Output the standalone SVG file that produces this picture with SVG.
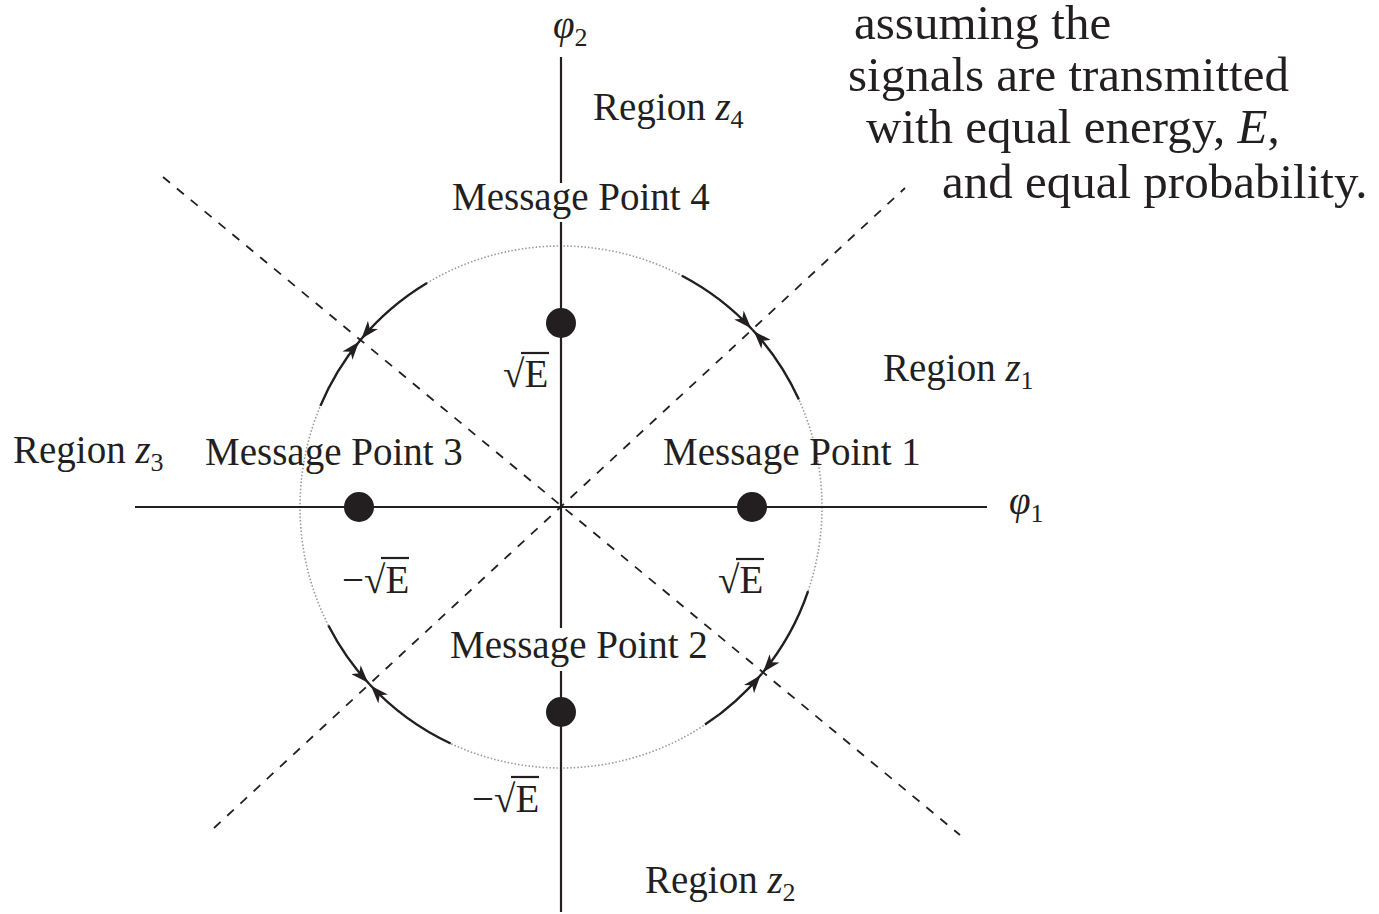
<svg xmlns="http://www.w3.org/2000/svg" width="1379" height="914" viewBox="0 0 1379 914">
<style>
.t{font-family:"Liberation Serif","Times New Roman",serif;font-size:39px;fill:#231f20}
.big{font-family:"Liberation Serif","Times New Roman",serif;font-size:49px;fill:#231f20}
.axis{stroke:#231f20;stroke-width:2.2;fill:none}
.dash{stroke:#231f20;stroke-width:1.8;stroke-dasharray:9 9;fill:none}
.arc{stroke:#231f20;stroke-width:2.4;fill:none;marker-end:url(#ah)}
.circ{stroke:#9a9a9a;stroke-width:1.6;stroke-dasharray:1.5 2;fill:none}
.dot{fill:#231f20}
.it{font-style:italic}
</style>
<defs>
<marker id="ah" markerUnits="userSpaceOnUse" viewBox="0 0 18 13" markerWidth="18" markerHeight="13" refX="20" refY="6.5" orient="auto">
<path d="M0,0 L18,6.5 L0,13 L5,6.5 Z" fill="#231f20"/>
</marker>
</defs>
<rect width="1379" height="914" fill="#ffffff"/>
<circle class="circ" cx="561" cy="507" r="261"/>
<g id="axes">
<line class="axis" x1="135" y1="507" x2="987" y2="507"/>
<line class="axis" x1="561" y1="57" x2="561" y2="183"/>
<line class="axis" x1="561" y1="222" x2="561" y2="628"/>
<line class="axis" x1="561" y1="671" x2="561" y2="912"/>
</g>
<g id="connectors">
<line class="dash" x1="163" y1="177" x2="960" y2="835"/>
<line class="dash" x1="214" y1="828" x2="905" y2="188"/>
<path class="arc" d="M681.9,275.7 A261,261 0 0 1 752.5,329.7"/>
<path class="arc" d="M798.9,399.6 A261,261 0 0 0 752.5,329.7"/>
<path class="arc" d="M808.1,591.1 A261,261 0 0 1 761.8,673.7"/>
<path class="arc" d="M705.0,724.6 A261,261 0 0 0 761.8,673.7"/>
<path class="arc" d="M450.7,743.5 A261,261 0 0 1 369.5,684.3"/>
<path class="arc" d="M328.4,625.5 A261,261 0 0 0 369.5,684.3"/>
<path class="arc" d="M320.4,405.9 A261,261 0 0 1 360.2,340.3"/>
<path class="arc" d="M427.0,283.0 A261,261 0 0 0 360.2,340.3"/>
</g>
<g id="point1"><circle class="dot" cx="752" cy="507" r="15"/><text class="t" x="663" y="465">Message Point 1</text></g>
<g id="point2"><circle class="dot" cx="561" cy="712" r="15"/><text class="t" x="450" y="658">Message Point 2</text></g>
<g id="point3"><circle class="dot" cx="359" cy="507" r="15"/><text class="t" x="205" y="465">Message Point 3</text></g>
<g id="point4"><circle class="dot" cx="561" cy="323" r="15"/><text class="t" x="452" y="210">Message Point 4</text></g>
<g id="sqrtE-labels">
<text class="t" x="503" y="387">√E</text><line class="axis" x1="521" y1="353" x2="549" y2="353"/>
<text class="t" x="718" y="593">√E</text><line class="axis" x1="736" y1="559" x2="764" y2="559"/>
<text class="t" x="342" y="593">−√E</text><line class="axis" x1="381" y1="558" x2="409" y2="558"/>
<text class="t" x="472" y="812">−√E</text><line class="axis" x1="511" y1="777" x2="539" y2="777"/>
</g>
<g id="axis-labels">
<text class="t" x="1009" y="514"><tspan class="it">φ</tspan><tspan font-size="26" dy="8">1</tspan></text>
<text class="t" x="553" y="38"><tspan class="it">φ</tspan><tspan font-size="26" dy="8">2</tspan></text>
</g>
<g id="regions">
<text class="t" x="883" y="381">Region <tspan class="it">z</tspan><tspan font-size="26" dy="8">1</tspan></text>
<text class="t" x="645" y="893">Region <tspan class="it">z</tspan><tspan font-size="26" dy="8">2</tspan></text>
<text class="t" x="13" y="463">Region <tspan class="it">z</tspan><tspan font-size="26" dy="8">3</tspan></text>
<text class="t" x="593" y="120">Region <tspan class="it">z</tspan><tspan font-size="26" dy="8">4</tspan></text>
</g>
<g id="note">
<text class="big" x="854" y="39">assuming the</text>
<text class="big" x="848" y="91">signals are transmitted</text>
<text class="big" x="866" y="143">with equal energy, <tspan class="it">E</tspan>,</text>
<text class="big" x="942" y="198">and equal probability.</text>
</g>
</svg>
